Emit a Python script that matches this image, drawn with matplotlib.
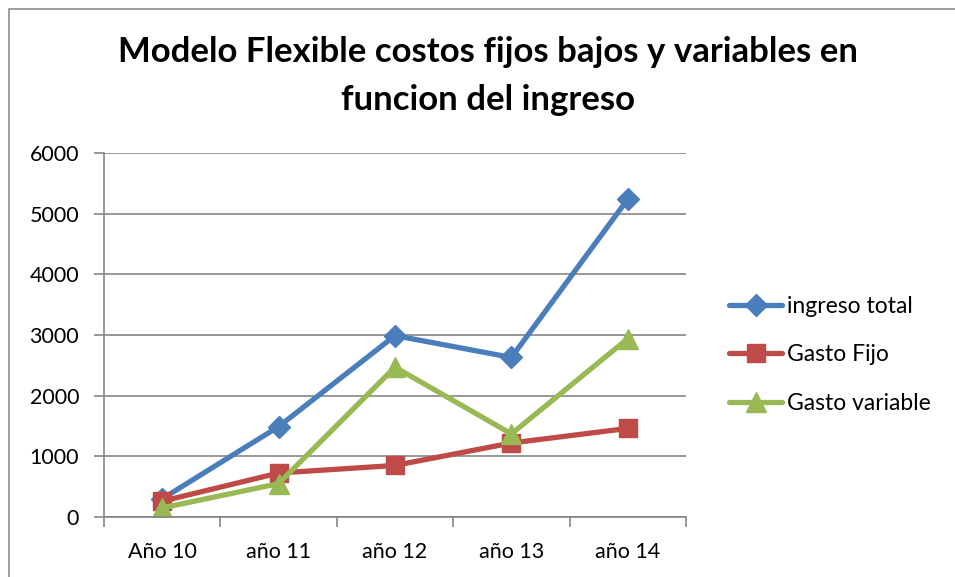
import matplotlib
matplotlib.use("Agg")
import matplotlib.pyplot as plt
from matplotlib.patches import Rectangle

# datos
categorias = ["Año 10", "año 11", "año 12", "año 13", "año 14"]
ingreso_total = [300, 1490, 2990, 2630, 5240]
gasto_fijo = [260, 725, 850, 1220, 1460]
gasto_variable = [150, 550, 2470, 1370, 2940]

FONT = ["Lato", "DejaVu Sans"]
plt.rcParams["font.family"] = FONT

W, H = 955, 577
fig = plt.figure(figsize=(W / 100, H / 100), dpi=100)

# borde del área del gráfico (cortado a la derecha y abajo)
fig.patches.append(Rectangle((9 / W, -0.05), 1.1, 1 - 9 / H + 0.05,
                             transform=fig.transFigure, fill=False,
                             edgecolor="#8C8C8C", lw=1.2))

ax = fig.add_axes([104 / W, 1 - 517 / H, (686 - 104) / W, (517 - 153) / H])

x = list(range(len(categorias)))
series = [
    (ingreso_total, "ingreso total", "#4A7EBB", "D", 11),
    (gasto_fijo, "Gasto Fijo", "#BE4B48", "s", 13),
    (gasto_variable, "Gasto variable", "#98B954", "^", 14),
]
for vals, label, color, marker, ms in series:
    ax.plot(x, vals, color=color, lw=3.8, marker=marker, markersize=ms,
            label=label, solid_capstyle="round")

ax.set_xlim(-0.5, len(categorias) - 0.5)
ax.set_ylim(0, 6000)
ax.set_yticks(range(0, 6001, 1000))
ax.set_xticks(x)
ax.set_xticklabels(categorias)
ax.set_xticks([i - 0.5 for i in range(len(categorias) + 1)], minor=True)
ax.tick_params(axis="x", which="major", length=0, pad=18, labelsize=15.5)
ax.tick_params(axis="x", which="minor", length=7, color="#868686", width=1.2)
ax.tick_params(axis="y", length=7, color="#868686", width=1.2, pad=11, labelsize=15.5)
ax.grid(axis="y", color="#868686", lw=1.2)
ax.set_axisbelow(True)
for s in ["top", "right"]:
    ax.spines[s].set_visible(False)
for s in ["left", "bottom"]:
    ax.spines[s].set_color("#868686")
    ax.spines[s].set_linewidth(1.2)

fig.text(488 / W, 1 - 52 / H, "Modelo Flexible costos fijos bajos y variables en",
         ha="center", va="center", fontsize=25, weight="bold")
fig.text(488 / W, 1 - 100 / H, "funcion del ingreso",
         ha="center", va="center", fontsize=25, weight="bold")

leg = fig.legend(loc="upper left", bbox_to_anchor=(708 / W, 1 - 275 / H),
                 frameon=False, fontsize=16.5, handlelength=2.35,
                 labelspacing=1.2, handletextpad=0.2)

fig.savefig("out.png", dpi=100)
